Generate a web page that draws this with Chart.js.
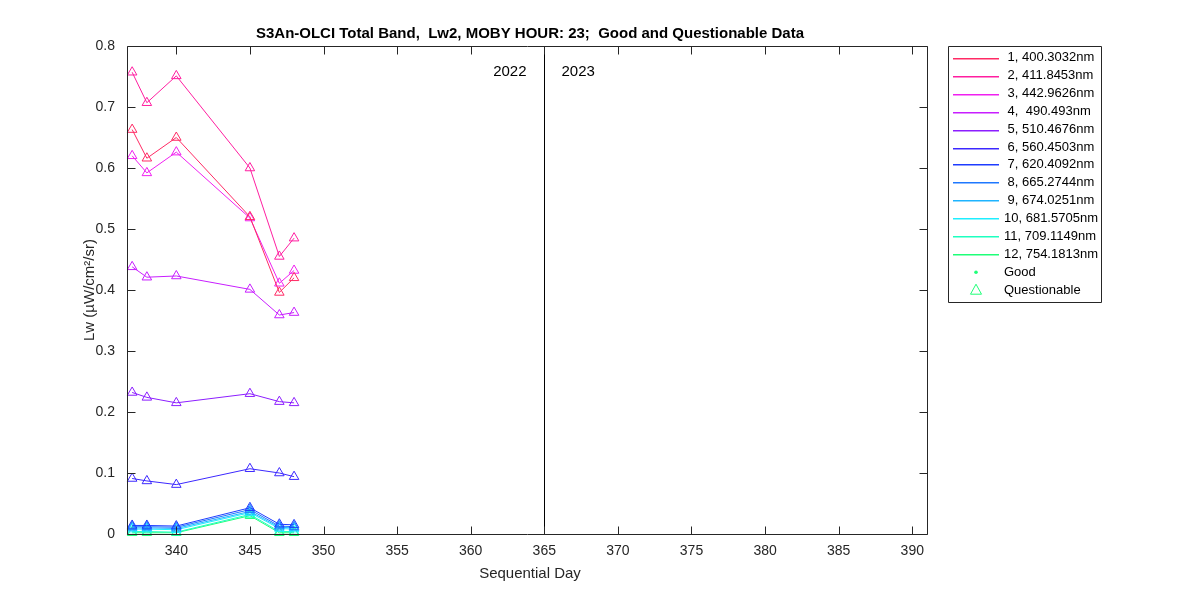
<!DOCTYPE html>
<html>
<head>
<meta charset="utf-8">
<script src="https://cdn.jsdelivr.net/npm/chart.js@4"></script>
<style>
  body { margin: 0; background: #fff; }
  #wrap { width: 1200px; height: 600px; }
</style>
</head>
<body>
<div id="wrap"><canvas id="myChart" width="1200" height="600"></canvas></div>
<script>
// sequential days of the matchups
const days = [337, 338, 340, 345, 347, 348];

// Lw per band (uW/cm^2/sr), all flagged questionable
const band1 = [0.663, 0.616, 0.650, 0.520, 0.396, 0.420];
const band2 = [0.757, 0.707, 0.751, 0.600, 0.455, 0.485];
const band3 = [0.620, 0.592, 0.626, 0.518, 0.411, 0.432];
const band4 = [0.438, 0.421, 0.423, 0.401, 0.359, 0.363];
const band5 = [0.232, 0.224, 0.215, 0.230, 0.217, 0.215];
const band6 = [0.091, 0.087, 0.081, 0.107, 0.100, 0.094];
const band7 = [0.014, 0.014, 0.013, 0.043, 0.016, 0.015];
const band8 = [0.012, 0.012, 0.011, 0.040, 0.013, 0.012];
const band9 = [0.010, 0.010, 0.009, 0.037, 0.011, 0.010];
const band10 = [0.008, 0.008, 0.007, 0.035, 0.009, 0.008];
const band11 = [0.004, 0.004, 0.003, 0.032, 0.004, 0.004];
const band12 = [0.002, 0.002, 0.002, 0.030, 0.002, 0.002];

const bandLabels = [' 1, 400.3032nm', ' 2, 411.8453nm', ' 3, 442.9626nm', ' 4,  490.493nm',
  ' 5, 510.4676nm', ' 6, 560.4503nm', ' 7, 620.4092nm', ' 8, 665.2744nm',
  ' 9, 674.0251nm', '10, 681.5705nm', '11, 709.1149nm', '12, 754.1813nm'];

const xTicks = [340, 345, 350, 355, 360, 365, 370, 375, 380, 385, 390];
const yTicks = [0, 0.1, 0.2, 0.3, 0.4, 0.5, 0.6, 0.7, 0.8];
const yearSplit = 365;

const colors = ['#ff2a64', '#ff1ea0', '#f020f0', '#c81eff', '#8c1eff', '#3c28ff',
  '#1e3cff', '#1e78ff', '#1eb4ff', '#1eeeff', '#1effc0', '#1eff78'];

const bands = [band1, band2, band3, band4, band5, band6, band7, band8, band9, band10, band11, band12];
const FONT = '"Liberation Sans", Arial, Helvetica, sans-serif';
const INK = '#262626';

const datasets = bands.map((vals, i) => ({
  label: bandLabels[i],
  data: days.map((d, j) => ({ x: d, y: vals[j] })),
  borderColor: colors[i],
  borderWidth: 1,
  pointStyle: 'triangle',
  pointRadius: 5.5,
  pointBorderWidth: 1,
  pointBorderColor: colors[i],
  pointBackgroundColor: 'rgba(0,0,0,0)',
  pointHoverRadius: 5.5,
  clip: false,
  tension: 0
}));

const frame = {
  id: 'frame',
  beforeDatasetsDraw(chart) {
    const { ctx, chartArea: a, scales } = chart;
    const xs = Math.round(scales.x.getPixelForValue(yearSplit)) + 0.5;
    ctx.save();
    ctx.strokeStyle = '#000';
    ctx.lineWidth = 1;
    ctx.beginPath();
    ctx.moveTo(xs, a.top);
    ctx.lineTo(xs, a.bottom);
    ctx.stroke();
    ctx.fillStyle = '#000';
    ctx.font = '15px ' + FONT;
    ctx.textBaseline = 'middle';
    ctx.textAlign = 'right';
    ctx.fillText('2022', xs - 18, 72);
    ctx.textAlign = 'left';
    ctx.fillText('2023', xs + 17, 72);
    ctx.restore();
  },
  afterDraw(chart) {
    const { ctx, chartArea: a, scales } = chart;
    ctx.save();
    ctx.strokeStyle = INK;
    ctx.lineWidth = 1;
    const L = Math.round(a.left) + 0.5, R = Math.round(a.right) + 0.5;
    const T = Math.round(a.top) + 0.5, B = Math.round(a.bottom) + 0.5;
    ctx.beginPath();
    ctx.rect(L, T, R - L, B - T);
    // inward ticks on all four sides
    xTicks.forEach(v => {
      const p = Math.round(scales.x.getPixelForValue(v)) + 0.5;
      ctx.moveTo(p, B); ctx.lineTo(p, B - 8);
      ctx.moveTo(p, T); ctx.lineTo(p, T + 8);
    });
    yTicks.forEach(v => {
      const p = Math.round(scales.y.getPixelForValue(v)) + 0.5;
      ctx.moveTo(L, p); ctx.lineTo(L + 8, p);
      ctx.moveTo(R, p); ctx.lineTo(R - 8, p);
    });
    ctx.stroke();

    // title and axis labels
    ctx.fillStyle = '#000';
    ctx.textAlign = 'center';
    ctx.textBaseline = 'middle';
    ctx.font = 'bold 15px ' + FONT;
    ctx.fillText('S3An-OLCI Total Band,  Lw2, MOBY HOUR: 23;  Good and Questionable Data', (a.left + a.right) / 2 + 3, 34);
    ctx.fillStyle = INK;
    ctx.font = '15px ' + FONT;
    ctx.fillText('Sequential Day', (a.left + a.right) / 2 + 3, 574);
    ctx.save();
    ctx.translate(90, (a.top + a.bottom) / 2);
    ctx.rotate(-Math.PI / 2);
    ctx.fillText('Lw (\u00b5W/cm\u00b2/sr)', 0, 0);
    ctx.restore();

    // legend box
    ctx.strokeStyle = INK;
    ctx.fillStyle = '#fff';
    ctx.beginPath();
    ctx.rect(948.5, 46.5, 153, 256);
    ctx.fill();
    ctx.stroke();
    ctx.font = '13px ' + FONT;
    ctx.textAlign = 'left';
    ctx.fillStyle = '#000';
    const rowY = i => 57.5 + i * 17.9;
    bandLabels.forEach((lab, i) => {
      const ty = rowY(i);
      // sample lines sit on even pixel rows
      const y = 2 * Math.round(ty / 2);
      ctx.fillStyle = colors[i];
      ctx.fillRect(953, y, 46, 1.5);
      ctx.fillStyle = '#000';
      ctx.fillText(lab, 1004, ty);
    });
    const green = colors[11];
    const gy = rowY(12), qy = rowY(13);
    ctx.fillStyle = green;
    ctx.beginPath();
    ctx.arc(976, gy, 1.8, 0, Math.PI * 2);
    ctx.fill();
    ctx.strokeStyle = green;
    ctx.beginPath();
    ctx.moveTo(976, qy - 6);
    ctx.lineTo(970.5, qy + 4);
    ctx.lineTo(981.5, qy + 4);
    ctx.closePath();
    ctx.stroke();
    ctx.fillStyle = '#000';
    ctx.fillText('Good', 1004, gy);
    ctx.fillText('Questionable', 1004, qy);
    ctx.restore();
  }
};

new Chart(document.getElementById('myChart'), {
  type: 'line',
  data: { datasets },
  plugins: [frame],
  options: {
    responsive: false,
    animation: false,
    events: [],
    layout: { padding: { top: 46, right: 273, left: 0, bottom: 0 } },
    plugins: {
      legend: { display: false },
      title: { display: false },
      tooltip: { enabled: false }
    },
    scales: {
      x: {
        type: 'linear',
        min: 336.65,
        max: 391,
        grid: { display: false, drawTicks: false },
        border: { display: false },
        afterBuildTicks: s => { s.ticks = xTicks.map(v => ({ value: v })); },
        afterFit: s => { s.height = 66; },
        ticks: { padding: 9, color: INK, font: { family: FONT, size: 14 }, maxRotation: 0, autoSkip: false }
      },
      y: {
        type: 'linear',
        min: 0,
        max: 0.8,
        grid: { display: false, drawTicks: false },
        border: { display: false },
        afterBuildTicks: s => { s.ticks = yTicks.map(v => ({ value: v })); },
        afterFit: s => { s.width = 127; },
        ticks: { padding: 12, color: INK, font: { family: FONT, size: 14 }, autoSkip: false,
          callback: v => String(Math.round(v * 10) / 10) }
      }
    }
  }
});
</script>
</body>
</html>
